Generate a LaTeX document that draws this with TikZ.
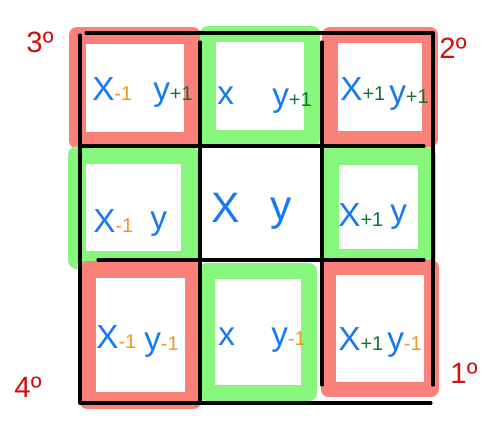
\documentclass[tikz,border=0pt]{standalone}
\usepackage{fontspec}
\setmainfont{Liberation Sans}
\definecolor{fr}{RGB}{250,128,122}
\definecolor{fg}{RGB}{134,246,124}
\definecolor{tb}{RGB}{22,122,240}
\definecolor{to}{RGB}{242,152,32}
\definecolor{tg}{RGB}{24,112,62}
\definecolor{tr}{RGB}{208,16,16}
\newcommand\subm[2]{{\fontsize{15}{15}\selectfont\textcolor{#1}{#2}}}
\begin{document}
\begin{tikzpicture}[x=0.75pt,y=-0.75pt,
  redframe/.style={draw=fr, fill=white, line join=round},
  greenframe/.style={draw=fg, fill=white, line join=round},
  gridline/.style={draw=black, line width=2.3pt, line cap=round},
  lab/.style={inner sep=0pt, anchor=base west, text=tb, font=\fontsize{25}{25}\selectfont},
  biglab/.style={lab, font=\fontsize{32}{32}\selectfont},
  corner/.style={inner sep=0pt, text=tr, font=\fontsize{22}{22}\selectfont}]
\useasboundingbox (0,0) rectangle (494,433);
% coloured frames
\draw[redframe, line width=12.75pt] (77,35) rectangle (192,140);
\draw[greenframe, line width=12pt] (208,34) rectangle (312,138);
\draw[redframe, line width=12pt] (330,35) rectangle (430,139);
\draw[greenframe, line width=13.5pt] (77,155) rectangle (190,260);
\draw[greenframe, line width=13.5pt] (330,156) rectangle (427,258);
\draw[redframe, line width=12.75pt] (87,269) rectangle (193,400);
\draw[greenframe, line width=12pt] (207,271) rectangle (309,393);
\draw[redframe, line width=11.25pt] (328,267) rectangle (431,389);
% grid lines
\draw[gridline] (86,33) -- (433,33);
\draw[gridline] (80,35) -- (80,403);
\draw[gridline] (80,403) -- (431,403);
\draw[gridline] (433,33) -- (433,385);
\draw[gridline] (200,42) -- (200,403);
\draw[gridline] (322,42) -- (322,385);
\draw[gridline] (80,146) -- (424,146);
\draw[gridline] (98,260) -- (424,260);
% cell texts
\node[lab] (tlx) at (92,100) {X\subm{to}{-1}};
\node[lab] (tly) at (153,100) {y\subm{tg}{+1}};
\node[lab] (tmx) at (217,104) {x};
\node[lab] (tmy) at (272,106) {y\subm{tg}{+1}};
\node[lab] (trx) at (340,100) {X\subm{tg}{+1}};
\node[lab] (try) at (389,103) {y\subm{tg}{+1}};
\node[lab] (mlx) at (93,232) {X\subm{to}{-1}};
\node[lab] (mly) at (150,229) {y};
\node[biglab] (cx) at (211,222) {X};
\node[biglab] (cy) at (270,220) {y};
\node[lab] (mrx) at (338,226) {X\subm{tg}{+1}};
\node[lab] (mry) at (390,222) {y};
\node[lab] (blx) at (96,348) {X\subm{to}{-1}};
\node[lab] (bly) at (144,350) {y\subm{to}{-1}};
\node[lab] (bmx) at (218,345) {x};
\node[lab] (bmy) at (271,345) {y\subm{to}{-1}};
\node[lab] (brx) at (338,350) {X\subm{tg}{+1}};
\node[lab] (bry) at (387,350) {y\subm{to}{-1}};
% corner labels
\node[corner] (c3) at (40,42) {3º};
\node[corner] (c2) at (453,48) {2º};
\node[corner] (c4) at (28,387) {4º};
\node[corner] (c1) at (464,373) {1º};
\end{tikzpicture}
\end{document}
